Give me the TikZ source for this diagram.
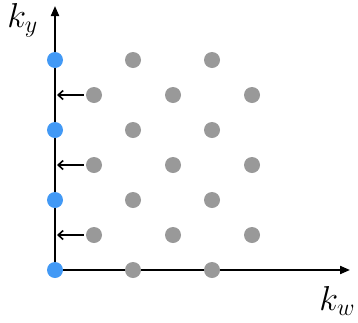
\documentclass[tikz,border=0pt]{standalone}
\usetikzlibrary{arrows.meta}
\begin{document}
\begin{tikzpicture}[x=1pt,y=-1pt,
  gdot/.style={circle,fill=gray!80,draw=none,minimum size=16pt,inner sep=0pt},
  bdot/.style={circle,fill={rgb,255:red,66;green,153;blue,245},draw=none,minimum size=16pt,inner sep=0pt},
  axis/.style={line width=2pt,-{Triangle[length=10pt,width=8pt]}},
  shiftarrow/.style={line width=1.6pt,-{Straight Barb[length=5pt,width=9pt]}},
  lbl/.style={font=\LARGE,scale=2.0,inner sep=0pt,anchor=base west}]
\useasboundingbox (0,0) rectangle (358,322);
\coordinate (O) at (55,270);
\coordinate (Yt) at (55,6);
\coordinate (Xr) at (350,270);
\draw[axis] (O) -- (Yt);
\draw[axis] (O) -- (Xr);
\node[lbl] (ky) at (7,27.5) {$k_y$};
\node[lbl] (kw) at (319,310) {$k_w$};
% gray dots
\foreach \x/\y/\n in {133/60/a1,212/60/a2,
  94/95/b1,173/95/b2,252/95/b3,
  133/130/c1,212/130/c2,
  94/165/d1,173/165/d2,252/165/d3,
  133/200/e1,212/200/e2,
  94/235/f1,173/235/f2,252/235/f3,
  133/270/g1,212/270/g2}
  \node[gdot] (\n) at (\x,\y) {};
% blue dots
\foreach \y/\n in {60/p1,130/p2,200/p3,270/p4}
  \node[bdot] (\n) at (55,\y) {};
% arrows
\foreach \n/\y in {b1/95,d1/165,f1/235}{
  \coordinate (t\n) at (57,\y);
  \draw[shiftarrow] ([xshift=-2pt]\n.west) -- (t\n);
}
\end{tikzpicture}
\end{document}
